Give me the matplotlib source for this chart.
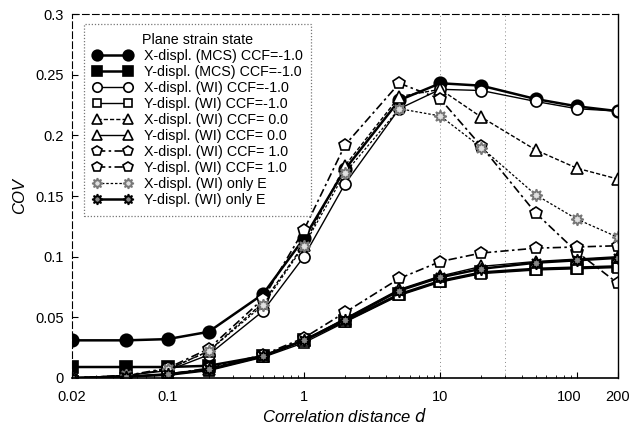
import numpy as np
import matplotlib
matplotlib.use('Agg')
import matplotlib.pyplot as plt
import matplotlib.transforms as mtrans

plt.rcParams['font.family'] = ['Liberation Sans', 'DejaVu Sans']

# correlation distance d
d = [0.02, 0.05, 0.1, 0.2, 0.5, 1, 2, 5, 10, 20, 50, 100, 200]

# X displacement
x_mcs = [0.031, 0.031, 0.032, 0.038, 0.069, 0.115, 0.172, 0.229, 0.243, 0.241, 0.230, 0.224, 0.220]
x_wi_m1 = [0.000, 0.002, 0.006, 0.019, 0.055, 0.100, 0.160, 0.222, 0.238, 0.237, 0.228, 0.222, 0.220]
x_wi_0 = [0.000, 0.002, 0.007, 0.022, 0.062, 0.110, 0.175, 0.232, 0.238, 0.215, 0.188, 0.173, 0.164]
x_wi_p1 = [0.000, 0.002, 0.008, 0.024, 0.065, 0.122, 0.192, 0.243, 0.230, 0.191, 0.136, 0.104, 0.078]
x_wi_e = [0.000, 0.002, 0.007, 0.022, 0.060, 0.109, 0.169, 0.222, 0.216, 0.190, 0.151, 0.131, 0.116]

# Y displacement
y_mcs = [0.009, 0.009, 0.009, 0.010, 0.018, 0.031, 0.047, 0.069, 0.080, 0.087, 0.090, 0.091, 0.092]
y_wi_m1 = [0.000, 0.001, 0.002, 0.006, 0.017, 0.029, 0.046, 0.068, 0.079, 0.086, 0.089, 0.090, 0.091]
y_wi_0 = [0.000, 0.001, 0.003, 0.007, 0.018, 0.031, 0.049, 0.073, 0.084, 0.092, 0.096, 0.098, 0.100]
y_wi_p1 = [0.000, 0.001, 0.003, 0.008, 0.019, 0.033, 0.054, 0.082, 0.096, 0.103, 0.107, 0.108, 0.109]
y_wi_e = [0.000, 0.001, 0.003, 0.007, 0.018, 0.031, 0.048, 0.072, 0.083, 0.090, 0.095, 0.097, 0.099]

labels = ['X-displ. (MCS) CCF=-1.0', 'Y-displ. (MCS) CCF=-1.0',
          'X-displ. (WI) CCF=-1.0', 'Y-displ. (WI) CCF=-1.0',
          'X-displ. (WI) CCF= 0.0', 'Y-displ. (WI) CCF= 0.0',
          'X-displ. (WI) CCF= 1.0', 'Y-displ. (WI) CCF= 1.0',
          'X-displ. (WI) only E', 'Y-displ. (WI) only E']

series = [x_mcs, y_mcs, x_wi_m1, y_wi_m1, x_wi_0, y_wi_0, x_wi_p1, y_wi_p1, x_wi_e, y_wi_e]

styles = [
    dict(ls='-', lw=1.8, marker='o', ms=9, mfc='k', mec='k'),
    dict(ls='-', lw=1.8, marker='s', ms=8, mfc='k', mec='k'),
    dict(ls='-', lw=1.0, marker='o', ms=8, mfc='w', mec='k'),
    dict(ls='-', lw=1.0, marker='s', ms=7, mfc='w', mec='k'),
    dict(ls=(0, (3, 1.5)), lw=1.0, marker='^', ms=8, mfc='w', mec='k'),
    dict(ls='-', lw=1.0, marker='^', ms=8, mfc='w', mec='k'),
    dict(ls=(0, (5, 2, 1.5, 2)), lw=1.2, marker='p', ms=9, mfc='w', mec='k'),
    dict(ls=(0, (5, 2, 1.5, 2)), lw=1.2, marker='p', ms=9, mfc='w', mec='k'),
    dict(ls=(0, (2, 1.5)), lw=0.9, marker=(8, 1, 0), ms=9, mfc='#e0e0e0', mec='#777777'),
    dict(ls='-', lw=1.8, marker=(8, 1, 0), ms=9, mfc='#888888', mec='k'),
]

fig = plt.figure(figsize=(6.33, 4.28), dpi=100)
ax = fig.add_axes([0.114, 0.117, 0.862, 0.850])

# faint vertical dotted lines as in the scan
for xv in [10, 30]:
    ax.axvline(xv, color='#888888', lw=0.7, ls=(0, (1, 3)), zorder=0)

for vals, lab, st in zip(series, labels, styles):
    ax.plot(d, vals, color='k', label=lab, markeredgewidth=1.2, **st)

ax.set_xscale('log')
ax.set_xlim(0.02, 200)
ax.set_ylim(0, 0.3)
ax.set_xticks([0.02, 0.1, 1, 10, 100, 200])
ax.set_xticklabels(['0.02', '0.1', '1', '10', '100', '200'])
ax.set_yticks([0, 0.05, 0.1, 0.15, 0.2, 0.25, 0.3])
ax.set_yticklabels(['0', '0.05', '0.1', '0.15', '0.2', '0.25', '0.3'])
ax.tick_params(direction='in', labelsize=10.5, length=4)
ax.tick_params(axis='x', pad=9)
ax.tick_params(axis='y', pad=6)
ax.tick_params(which='minor', direction='in', length=2)
ax.xaxis.set_minor_formatter(plt.NullFormatter())

# shift "100" label a bit left like the original
lbl = ax.get_xticklabels()[4]
lbl.set_transform(lbl.get_transform() + mtrans.ScaledTranslation(-8 / 100, 0, fig.dpi_scale_trans))

for s in ['top', 'left']:
    ax.spines[s].set_linestyle((0, (6, 3)))
    ax.spines[s].set_linewidth(0.8)
ax.spines['bottom'].set_linewidth(1.2)
ax.spines['right'].set_linewidth(1.0)

ax.set_xlabel('Correlation distance $d$', fontsize=12, style='italic', labelpad=2)
ax.set_ylabel('COV', fontsize=12, style='italic', labelpad=6)

leg = ax.legend(loc='upper left', bbox_to_anchor=(0.022, 0.972), borderaxespad=0,
                title='Plane strain state', fontsize=10.3, title_fontsize=10.3,
                numpoints=2, markerscale=0.85, handlelength=2.75,
                handletextpad=0.8, labelspacing=0.14, borderpad=0.6,
                frameon=True, fancybox=False, edgecolor='#555555')
leg.get_frame().set_linestyle((0, (1, 1.5)))
leg.get_frame().set_linewidth(0.9)

plt.savefig('out.png', dpi=100)
